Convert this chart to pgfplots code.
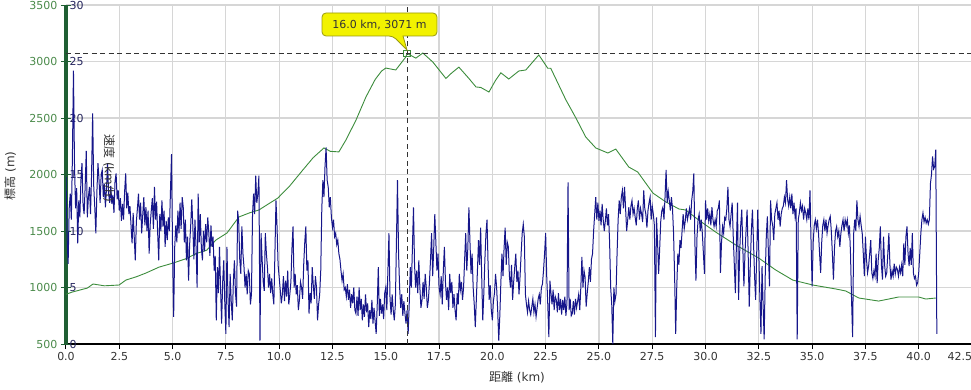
\documentclass[border=0pt]{standalone}
\usepackage{fontspec}
\setmainfont{DejaVu Sans}
\newfontfamily\cjk{Noto Sans CJK JP}
\usepackage{pgfplots}
\usepackage{pgfplotstable}
\pgfplotsset{compat=1.18}
\definecolor{elev}{HTML}{3C8C3C}
\definecolor{elevlab}{HTML}{4A8A4A}
\definecolor{spd}{HTML}{16168A}
\definecolor{spdlab}{HTML}{26265E}
\definecolor{axgreen}{HTML}{1F5F33}
\definecolor{gridc}{HTML}{D6D6D6}
\definecolor{tipfill}{HTML}{F2F200}
\definecolor{tipdraw}{HTML}{9A9A10}
\definecolor{txt}{HTML}{333333}

\pgfplotstableread{
km ele
0.0 940
0.3 960
0.6 975
1.0 995
1.27 1031
1.8 1015
2.49 1022
2.81 1066
3.3 1095
3.75 1128
4.36 1180
5.0 1215
5.63 1255
6.1 1300
6.6 1330
7.03 1420
7.55 1482
8.11 1624
8.6 1660
9.05 1686
9.5 1740
9.94 1792
10.5 1900
11.11 2040
11.6 2150
12.1 2235
12.4 2205
12.8 2200
13.13 2305
13.6 2480
14.07 2686
14.5 2840
14.8 2915
15.0 2942
15.47 2925
15.94 3040
16.0 3071
16.41 3030
16.74 3075
17.21 2995
17.82 2850
18.1 2900
18.43 2950
18.9 2850
19.23 2775
19.46 2770
19.84 2730
20.16 2836
20.4 2900
20.77 2845
21.24 2916
21.57 2925
22.18 3058
22.6 2940
22.74 2940
23.45 2660
23.92 2500
24.38 2332
24.85 2235
25.42 2190
25.79 2225
26.4 2066
26.82 2022
27.53 1836
28.14 1757
28.75 1695
29.07 1686
29.68 1597
30.48 1490
31.42 1376
32.5 1260
33.29 1155
34.09 1066
35.03 1022
36.11 987
36.58 969
37.19 907
38.12 880
39.06 916
40.0 916
40.33 898
40.8 907
}\elevtable

\pgfplotstableread{
km spd
0.00 14.8
0.05 9.5
0.10 7.1
0.15 12.0
0.20 13.3
0.25 11.0
0.30 16.5
0.35 24.2
0.40 15.7
0.45 12.0
0.50 13.8
0.55 8.9
0.60 12.7
0.65 11.2
0.70 14.5
0.75 16.0
0.80 12.3
0.85 11.5
0.90 14.0
0.95 17.1
1.00 11.2
1.05 13.0
1.10 13.9
1.15 11.5
1.20 15.0
1.25 20.4
1.30 14.0
1.35 12.1
1.40 9.8
1.45 13.5
1.50 16.0
1.55 14.5
1.60 12.5
1.65 15.0
1.70 15.4
1.75 13.0
1.80 14.2
1.85 12.1
1.90 13.8
1.95 16.0
2.00 13.3
2.05 12.5
2.10 14.0
2.15 12.4
2.20 13.2
2.25 11.6
2.30 14.4
2.35 15.1
2.40 12.8
2.45 13.6
2.50 11.8
2.55 12.9
2.60 10.9
2.65 12.4
2.70 11.0
2.75 13.5
2.80 15.1
2.85 12.0
2.90 13.4
2.95 11.5
3.00 12.2
3.05 10.5
3.10 8.9
3.15 11.6
3.20 9.5
3.25 7.4
3.30 10.8
3.35 12.0
3.40 13.3
3.45 11.0
3.50 12.5
3.55 9.8
3.60 11.4
3.65 13.0
3.70 10.5
3.75 12.1
3.80 10.0
3.85 11.8
3.90 8.0
3.95 10.6
4.00 11.8
4.05 12.9
4.10 10.2
4.15 13.9
4.20 11.0
4.25 12.6
4.30 9.8
4.35 7.4
4.40 11.5
4.45 10.0
4.50 12.7
4.55 10.4
4.60 11.8
4.65 8.6
4.70 10.9
4.75 9.2
4.80 11.2
4.85 10.0
4.90 13.5
4.95 16.8
5.00 8.0
5.05 2.4
5.10 8.6
5.15 10.5
5.20 9.0
5.25 11.8
5.30 9.8
5.35 12.5
5.40 10.2
5.45 13.0
5.50 12.1
5.55 9.0
5.60 11.0
5.65 7.4
5.70 9.5
5.75 5.6
5.80 8.8
5.85 10.5
5.90 12.8
5.95 10.4
6.00 7.5
6.05 11.0
6.10 8.6
6.15 5.0
6.20 13.3
6.25 9.0
6.30 11.5
6.35 8.5
6.40 7.4
6.45 10.0
6.50 8.2
6.55 10.6
6.60 9.0
6.65 11.2
6.70 9.8
6.75 7.8
6.80 10.5
6.85 8.6
6.90 9.5
6.95 6.5
7.00 7.8
7.05 2.1
7.10 6.8
7.15 4.5
7.20 8.6
7.25 5.0
7.30 1.8
7.35 5.5
7.40 7.4
7.45 3.5
7.50 0.9
7.55 8.6
7.60 4.0
7.65 1.5
7.70 6.2
7.75 3.8
7.80 2.1
7.85 5.5
7.90 7.4
7.95 4.5
8.00 3.3
8.05 11.8
8.10 10.9
8.15 7.5
8.20 6.2
8.25 10.4
8.30 8.0
8.35 6.8
8.40 5.0
8.45 6.2
8.50 4.4
8.55 6.5
8.60 6.2
8.65 3.5
8.70 4.4
8.75 11.5
8.80 13.3
8.85 11.5
8.90 14.9
8.95 12.5
9.00 13.3
9.05 14.9
9.10 0.3
9.15 9.8
9.20 7.5
9.25 5.5
9.30 4.7
9.35 9.8
9.40 8.0
9.45 6.8
9.50 5.0
9.55 6.2
9.60 4.5
9.65 5.8
9.70 4.4
9.75 3.5
9.80 8.0
9.85 12.7
9.90 10.4
9.95 7.0
10.00 5.9
10.05 4.8
10.10 3.6
10.15 4.4
10.20 6.0
10.25 3.8
10.30 5.6
10.35 4.2
10.40 6.5
10.45 3.5
10.50 4.4
10.55 5.5
10.60 8.5
10.65 10.4
10.70 5.0
10.75 6.2
10.80 4.4
10.85 5.2
10.90 3.0
10.95 3.9
11.00 5.5
11.05 5.0
11.10 4.0
11.15 7.0
11.20 9.0
11.25 10.4
11.30 6.5
11.35 7.4
11.40 2.7
11.45 4.5
11.50 3.6
11.55 6.8
11.60 5.2
11.65 4.0
11.70 6.0
11.75 5.0
11.80 2.1
11.85 3.5
11.90 4.4
11.95 6.5
12.00 12.0
12.05 14.5
12.10 13.0
12.15 15.7
12.20 17.4
12.25 14.5
12.30 13.9
12.35 12.1
12.40 13.0
12.45 11.2
12.50 10.3
12.55 11.0
12.60 9.5
12.65 9.8
12.70 8.8
12.75 9.2
12.80 8.0
12.85 7.5
12.90 6.5
12.95 5.6
13.00 6.2
13.05 4.8
13.10 5.0
13.15 4.2
13.20 5.3
13.25 3.9
13.30 4.8
13.35 3.2
13.40 4.4
13.45 3.6
13.50 5.0
13.55 3.0
13.60 2.7
13.65 4.2
13.70 2.5
13.75 5.0
13.80 3.0
13.85 4.0
13.90 2.1
13.95 3.5
14.00 2.4
14.05 4.4
14.10 2.8
14.15 3.6
14.20 1.5
14.25 3.0
14.30 2.2
14.35 3.9
14.40 1.8
14.45 3.2
14.50 2.0
14.55 0.9
14.60 3.5
14.65 6.8
14.70 2.5
14.75 4.0
14.80 2.7
14.85 3.5
14.90 2.2
14.95 4.5
15.00 5.0
15.05 3.0
15.10 6.5
15.15 9.8
15.20 4.0
15.25 2.6
15.30 4.4
15.35 3.0
15.40 2.1
15.45 3.5
15.50 9.0
15.55 14.5
15.60 8.0
15.65 5.0
15.70 3.2
15.75 4.4
15.80 2.5
15.85 3.8
15.90 2.7
15.95 1.8
16.00 3.0
16.05 0.9
16.10 3.5
16.15 6.8
16.20 5.0
16.25 8.5
16.30 12.1
16.35 7.0
16.40 5.0
16.45 6.5
16.50 4.5
16.55 7.4
16.60 5.0
16.65 3.2
16.70 3.9
16.75 5.5
16.80 4.0
16.85 6.2
16.90 5.0
16.95 3.2
17.00 3.9
17.05 5.5
17.10 7.5
17.15 9.8
17.20 6.0
17.25 8.5
17.30 11.5
17.35 9.0
17.40 6.5
17.45 8.0
17.50 5.0
17.55 4.4
17.60 6.0
17.65 3.5
17.70 6.5
17.75 8.6
17.80 5.5
17.85 3.9
17.90 5.0
17.95 3.0
18.00 6.2
18.05 4.5
18.10 5.5
18.15 3.2
18.20 4.4
18.25 3.0
18.30 2.1
18.35 4.5
18.40 3.5
18.45 6.2
18.50 4.8
18.55 5.5
18.60 3.9
18.65 5.0
18.70 7.5
18.75 9.8
18.80 6.5
18.85 8.5
18.90 12.1
18.95 9.0
19.00 6.2
19.05 8.0
19.10 5.0
19.15 3.5
19.20 1.5
19.25 4.0
19.30 6.5
19.35 9.2
19.40 7.0
19.45 10.3
19.50 6.0
19.55 2.1
19.60 4.5
19.65 7.5
19.70 9.8
19.75 11.0
19.80 7.0
19.85 3.9
19.90 5.2
19.95 3.0
20.00 2.1
20.05 3.8
20.10 4.5
20.15 6.2
20.20 5.0
20.25 3.0
20.30 0.3
20.35 2.5
20.40 5.5
20.45 8.0
20.50 6.0
20.55 8.5
20.60 10.3
20.65 7.0
20.70 9.0
20.75 8.6
20.80 6.0
20.85 5.0
20.90 7.0
20.95 3.9
21.00 5.5
21.05 6.8
21.10 8.0
21.15 5.5
21.20 6.5
21.25 4.4
21.30 6.0
21.35 8.0
21.40 9.8
21.45 10.6
21.50 9.5
21.55 4.4
21.60 3.5
21.65 2.8
21.70 3.8
21.75 3.0
21.80 2.6
21.85 3.3
21.90 4.0
21.95 2.8
22.00 3.5
22.05 2.4
22.10 3.2
22.15 4.0
22.20 4.4
22.25 3.5
22.30 5.0
22.35 5.3
22.40 6.5
22.45 8.0
22.50 9.8
22.55 6.0
22.60 3.5
22.65 0.6
22.70 5.6
22.75 4.5
22.80 3.5
22.85 4.8
22.90 3.0
22.95 4.2
23.00 3.9
23.05 2.8
23.10 4.5
23.15 3.0
23.20 4.0
23.25 2.6
23.30 3.9
23.35 3.0
23.40 4.2
23.45 2.5
23.50 3.6
23.55 14.3
23.60 3.0
23.65 4.0
23.70 2.5
23.75 2.7
23.80 3.8
23.85 2.6
23.90 4.0
23.95 3.2
24.00 3.8
24.05 4.4
24.10 3.0
24.15 5.0
24.20 7.7
24.25 5.0
24.30 6.5
24.35 5.9
24.40 3.3
24.45 4.5
24.50 5.5
24.55 6.8
24.60 5.5
24.65 7.5
24.70 8.0
24.75 10.0
24.80 11.5
24.85 13.0
24.90 11.0
24.95 12.5
25.00 10.9
25.05 11.8
25.10 10.5
25.15 12.4
25.20 11.0
25.25 10.0
25.30 10.9
25.35 12.0
25.40 10.5
25.45 11.5
25.50 9.0
25.55 5.0
25.60 3.5
25.65 0.0
25.70 5.0
25.75 3.8
25.80 4.4
25.85 8.0
25.90 11.0
25.95 12.7
26.00 11.5
26.05 13.0
26.10 13.6
26.15 12.0
26.20 13.9
26.25 12.0
26.30 10.0
26.35 11.0
26.40 12.1
26.45 11.0
26.50 12.2
26.55 12.7
26.60 11.5
26.65 12.0
26.70 11.2
26.75 10.5
26.80 12.0
26.85 12.7
26.90 11.0
26.95 12.0
27.00 11.5
27.05 10.8
27.10 13.6
27.15 12.0
27.20 11.5
27.25 10.3
27.30 11.8
27.35 12.5
27.40 13.0
27.45 11.0
27.50 12.2
27.55 11.5
27.60 10.5
27.65 0.6
27.70 11.2
27.75 9.0
27.80 6.2
27.85 8.5
27.90 10.9
27.95 11.8
28.00 12.1
28.05 11.0
28.10 13.0
28.15 15.4
28.20 12.5
28.25 13.5
28.30 12.7
28.35 11.8
28.40 13.0
28.45 12.0
28.50 9.8
28.55 6.0
28.60 0.9
28.65 5.0
28.70 8.0
28.75 7.0
28.80 9.2
28.85 8.5
28.90 10.0
28.95 11.5
29.00 10.2
29.05 10.9
29.10 12.0
29.15 11.0
29.20 11.5
29.25 12.0
29.30 11.0
29.35 12.7
29.40 13.5
29.45 15.1
29.50 9.0
29.55 5.6
29.60 9.5
29.65 11.0
29.70 11.5
29.75 10.0
29.80 11.0
29.85 9.8
29.90 8.0
29.95 6.2
30.00 12.7
30.05 11.0
30.10 12.0
30.15 10.9
30.20 11.5
30.25 10.5
30.30 12.1
30.35 11.0
30.40 10.4
30.45 11.0
30.50 10.4
30.55 11.8
30.60 12.0
30.65 12.7
30.70 6.3
30.75 9.0
30.80 10.4
30.85 9.8
30.90 11.2
30.95 11.0
31.00 12.0
31.05 13.9
31.10 11.0
31.15 10.4
31.20 11.5
31.25 12.5
31.30 9.5
31.35 7.0
31.40 4.5
31.45 9.0
31.50 12.5
31.55 3.9
31.60 8.0
31.65 10.5
31.70 11.9
31.75 8.5
31.80 5.1
31.85 8.0
31.90 10.0
31.95 11.9
32.00 8.0
32.05 3.3
32.10 7.0
32.15 10.0
32.20 11.9
32.25 9.0
32.30 6.0
32.35 3.9
32.40 8.0
32.45 11.9
32.50 8.0
32.55 4.0
32.60 0.9
32.65 6.9
32.70 3.5
32.75 0.4
32.80 6.0
32.85 9.5
32.90 11.3
32.95 8.0
33.00 5.1
33.05 12.7
33.10 11.0
33.15 10.5
33.20 9.2
33.25 11.5
33.30 12.0
33.35 12.5
33.40 11.0
33.45 11.8
33.50 10.4
33.55 11.5
33.60 12.0
33.65 12.2
33.70 13.0
33.75 12.5
33.80 14.5
33.85 12.8
33.90 12.2
33.95 13.0
34.00 12.0
34.05 13.3
34.10 11.5
34.15 12.5
34.20 11.3
34.25 12.0
34.30 0.4
34.35 11.0
34.40 11.6
34.45 12.5
34.50 11.8
34.55 12.2
34.60 11.0
34.65 12.0
34.70 11.6
34.75 11.0
34.80 12.0
34.85 11.0
34.90 13.6
34.95 9.0
35.00 5.1
35.05 9.0
35.10 10.5
35.15 11.0
35.20 10.2
35.25 11.0
35.30 9.8
35.35 8.0
35.40 6.3
35.45 9.0
35.50 10.5
35.55 11.0
35.60 10.0
35.65 11.0
35.70 9.8
35.75 10.5
35.80 11.0
35.85 11.3
35.90 10.0
35.95 8.0
36.00 5.7
36.05 8.5
36.10 10.0
36.15 10.4
36.20 9.5
36.25 10.0
36.30 8.6
36.35 9.8
36.40 10.5
36.45 11.0
36.50 10.0
36.55 11.0
36.60 10.5
36.65 11.0
36.70 9.8
36.75 10.5
36.80 8.0
36.85 3.9
36.90 0.6
36.95 9.8
37.00 11.0
37.05 10.0
37.10 12.7
37.15 11.0
37.20 10.4
37.25 11.3
37.30 10.5
37.35 9.8
37.40 8.0
37.45 6.0
37.50 9.5
37.55 7.5
37.60 6.3
37.65 6.9
37.70 8.0
37.75 9.2
37.80 6.3
37.85 5.8
37.90 6.5
37.95 6.0
38.00 8.0
38.05 5.4
38.10 7.4
38.15 8.5
38.20 10.4
38.25 7.0
38.30 5.7
38.35 9.5
38.40 7.0
38.45 6.0
38.50 6.3
38.55 8.0
38.60 9.8
38.65 7.0
38.70 5.7
38.75 6.5
38.80 6.0
38.85 7.1
38.90 6.2
38.95 6.8
39.00 6.6
39.05 6.0
39.10 6.8
39.15 6.3
39.20 7.0
39.25 6.0
39.30 8.9
39.35 7.0
39.40 9.5
39.45 10.4
39.50 8.0
39.55 6.9
39.60 8.5
39.65 7.0
39.70 9.8
39.75 6.3
39.80 5.8
39.85 6.0
39.90 5.2
39.95 5.4
40.00 6.3
40.05 8.0
40.10 9.8
40.15 11.0
40.20 11.6
40.25 10.8
40.30 11.2
40.35 10.7
40.40 11.0
40.45 10.6
40.50 11.0
40.55 14.2
40.60 15.0
40.65 16.6
40.70 15.5
40.75 15.7
40.80 17.2
40.85 0.9
}\spdtable

\begin{document}
\begin{tikzpicture}
\begin{axis}[
  at={(0pt,0pt)}, anchor=south west,
  width=906pt, height=339pt, scale only axis,
  xmin=0, xmax=42.5, ymin=500, ymax=3500,
  axis x line*=bottom, axis y line*=left,
  x axis line style={black, line width=1.6pt, -},
  y axis line style={axgreen, line width=3.5pt, -},
  xtick={0,2.5,5,7.5,10,12.5,15,17.5,20,22.5,25,27.5,30,32.5,35,37.5,40,42.5},
  xticklabels={0.0,2.5,5.0,7.5,10.0,12.5,15.0,17.5,20.0,22.5,25.0,27.5,30.0,32.5,35.0,37.5,40.0,\makebox[0pt][r]{42.5}},
  ytick={500,1000,1500,2000,2500,3000,3500},
  yticklabels={500,1000,1500,2000,2500,3000,3500},
  grid=major, grid style={gridc, line width=1.2pt},
  tick align=outside, major tick length=5pt,
  xtick style={black, line width=1pt},
  ytick style={axgreen, line width=1pt},
  xticklabel style={txt, font=\fontsize{11}{13}\selectfont},
  yticklabel style={elevlab, font=\fontsize{11}{13}\selectfont},
  clip=true,
]
\addplot[elev, line width=0.9pt] table[x=km, y=ele] {\elevtable};
\addplot[only marks, mark=square, mark size=3.2pt, mark options={elev, line width=0.9pt}] coordinates {(16.0,3071)};
\end{axis}
\begin{axis}[
  at={(0pt,0pt)}, anchor=south west,
  width=906pt, height=339pt, scale only axis,
  xmin=0, xmax=42.5, ymin=0, ymax=30,
  axis x line=none, axis y line*=left,
  y axis line style={draw=none},
  ytick={0,5,10,15,20,25,30},
  yticklabels={0,5,10,15,20,25,30},
  tick align=inside, major tick length=5pt,
  ytick style={axgreen, line width=1pt},
  yticklabel style={spdlab, anchor=west, xshift=0pt, font=\fontsize{11}{13}\selectfont},
]
\addplot[spd, line width=1pt] table[x=km, y=spd] {\spdtable};
\draw[txt, line width=0.9pt, dash pattern=on 5pt off 3.5pt] (axis cs:16.0,0) -- (axis cs:16.0,30);
\draw[txt, line width=0.9pt, dash pattern=on 5pt off 3.5pt] (axis cs:0,25.71) -- (axis cs:42.5,25.71);
\end{axis}
% tooltip
\draw[tipdraw, fill=tipfill, line width=0.8pt, rounded corners=4pt]
  (256pt,308pt) -- (327pt,308pt) {[sharp corners] -- (341pt,294pt) -- (337pt,308pt)} -- (371pt,308pt) -- (371pt,331pt) -- (256pt,331pt) -- cycle;
\node[txt, font=\fontsize{11}{13}\selectfont, inner sep=0pt] at (313.5pt,319.5pt) {16.0 km, 3071 m};
% axis labels
\node[txt, rotate=90, font=\fontsize{12}{14}\selectfont, inner sep=0pt] at (-56pt,168pt) {{\cjk 標高} (m)};
\node[txt, rotate=-90, font=\fontsize{12}{14}\selectfont, inner sep=0pt] at (43pt,176pt) {{\cjk 速度} (km/h)};
\node[txt, font=\fontsize{12}{14}\selectfont, inner sep=0pt] at (451pt,-33pt) {{\cjk 距離} (km)};
\pgfresetboundingbox
\path[use as bounding box] (-66pt,-45pt) rectangle (905pt,344pt);
\end{tikzpicture}
\end{document}
